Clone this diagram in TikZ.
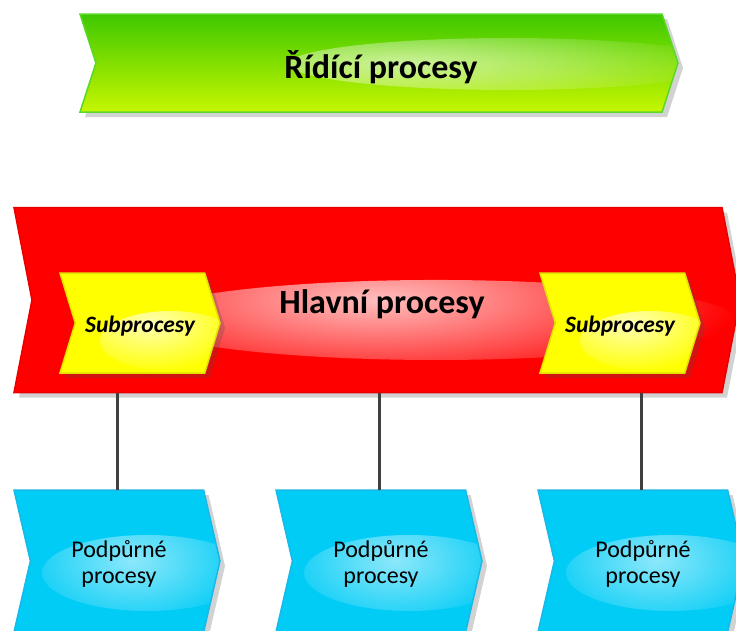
\documentclass[tikz,border=0pt]{standalone}
\usepackage{fontspec}
\setmainfont{Carlito}
\usetikzlibrary{shapes.symbols,shadows,fadings}

\definecolor{ctrlTop}{HTML}{3EC800}
\definecolor{ctrlBot}{HTML}{C6F600}
\definecolor{ctrlEdge}{HTML}{5AD82A}
\definecolor{mainRed}{HTML}{FF0000}
\definecolor{mainEdge}{HTML}{E80000}
\definecolor{subYel}{HTML}{FFFF00}
\definecolor{subEdge}{HTML}{E2E200}
\definecolor{supBlue}{HTML}{00CCF6}
\definecolor{supEdge}{HTML}{18B8E8}
\definecolor{linkGray}{HTML}{404040}

% radial fade, opaque in the middle and clear at the rim
\tikzfading[name=softglow, inner color=transparent!0, outer color=transparent!100]

\begin{document}
\begin{tikzpicture}[x=1pt,y=-1pt,
  proc/.style={signal, signal to=east, signal from=west,
    inner sep=0pt, outer sep=0pt, line width=1.5pt, align=center,
    drop shadow={shadow xshift=5pt, shadow yshift=-5pt, opacity=0.25, fill=black!70}},
  % soft white sheen, kept inside the shape: #1 = offset, #2 = radii, #3 = strength
  sheen/.style n args={3}{path picture={
    \fill[white, opacity=#3, path fading=softglow]
      ([shift={#1}]path picture bounding box.center) ellipse (#2);}},
  ctrl/.style={proc, top color=ctrlTop, bottom color=ctrlBot, draw=ctrlEdge,
    minimum width=598pt, minimum height=98pt, signal pointer angle=144,
    sheen={(130pt,-1pt)}{220 and 26}{0.6}},
  mainproc/.style={proc, fill=mainRed, draw=mainEdge,
    minimum width=726pt, minimum height=185pt, signal pointer angle=158,
    sheen={(60pt,-20pt)}{300 and 40}{0.75}},
  subproc/.style={proc, fill=subYel, draw=subEdge,
    minimum width=160pt, minimum height=100pt, signal pointer angle=146,
    sheen={(30pt,-18pt)}{70 and 30}{0.7}},
  supproc/.style={proc, fill=supBlue, draw=supEdge,
    minimum width=206pt, minimum height=142pt, signal pointer angle=154,
    sheen={(30pt,-12pt)}{105 and 38}{0.55}},
  titletext/.style={anchor=base, inner sep=0pt, font=\fontsize{34}{40}\selectfont\bfseries},
  subtext/.style={anchor=base, inner sep=0pt, font=\fontsize{23.5}{28}\selectfont\bfseries\itshape},
  suptext/.style={inner sep=0pt, align=center, font=\fontsize{24}{25.5}\selectfont},
  link/.style={draw=linkGray, line width=3pt}]

\useasboundingbox (0,0) rectangle (736,630);
\clip (0,0) rectangle (736,630);

% control processes band
\node[ctrl] (ctrlband) at (379,63) {};
\node[titletext] (ctrltext) at (381,78) {Řídící procesy};

% main processes band
\node[mainproc] (mainband) at (377,300) {};
\node[titletext] (maintext) at (382,313) {Hlavní procesy};

% subprocesses inside the main band
\node[subproc] (subL) at (140,323) {};
\node[subtext] (subLtext) at (140,332) {Subprocesy};
\node[subproc] (subR) at (620,323) {};
\node[subtext] (subRtext) at (620,332) {Subprocesy};

% support processes, each hung from the main band
\foreach \i/\x in {1/117, 2/379, 3/641} {
  \node[supproc] (sup\i) at (\x,561) {};
  \node[suptext] (sup\i text) at (\x+2,564) {Podpůrné\\procesy};
  \draw[link] (sup\i.north) -- (sup\i.north |- mainband.south);
}
\end{tikzpicture}
\end{document}
